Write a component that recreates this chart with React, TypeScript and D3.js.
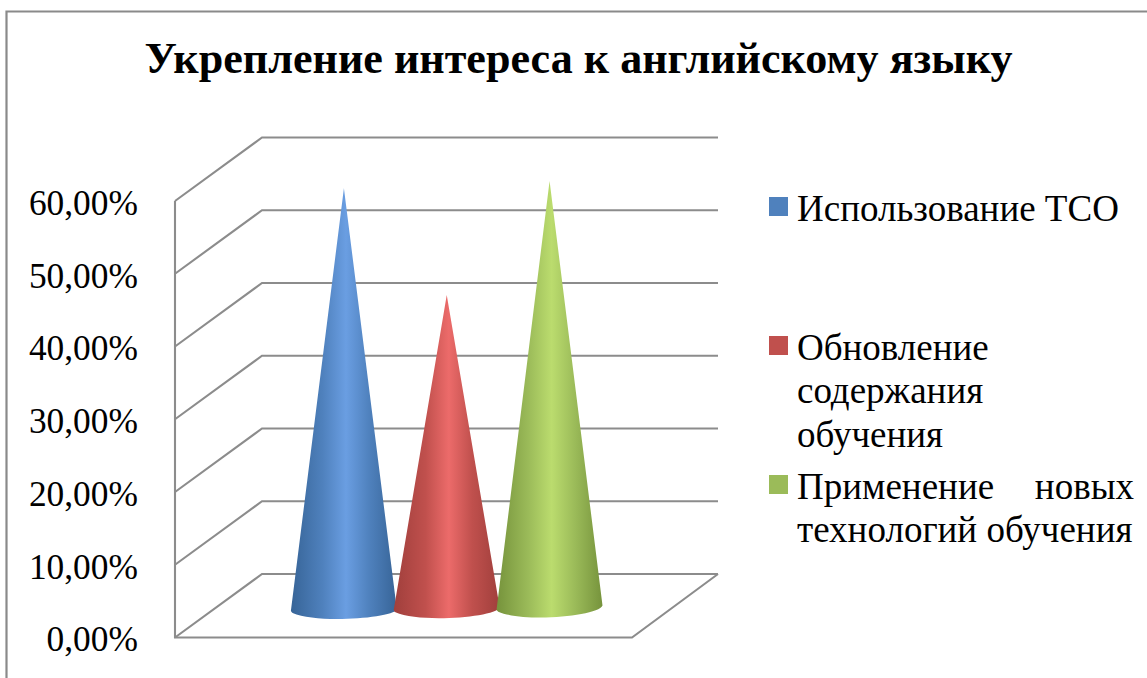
import { useEffect, useRef } from "react";
import * as d3 from "d3";

const title = "Укрепление интереса к английскому языку";
const seriesNames = ["Использование ТСО", "Обновление содержания обучения", "Применение новых технологий обучения"];
const seriesValues = [0.574, 0.427, 0.584];
const tickValues = [0, 0.1, 0.2, 0.3, 0.4, 0.5, 0.6];
const baseColors = ["#4f81bd", "#c0504d", "#9bbb59"];
const edgeColors = ["#376497", "#a03f3c", "#76933c"];
const lightColors = ["#6a9ee2", "#ec6b6a", "#bbdc6e"];
const legendLines = [["Использование ТСО"], ["Обновление", "содержания", "обучения"], ["Применение", "технологий обучения"]];
const legendTops = [197, 336, 475];

const width = 1147;
const height = 678;
const font = "'Liberation Serif', 'Times New Roman', serif";
const gridColor = "#8c8c8c";

export default function App() {
  const svgRef = useRef<SVGSVGElement>(null);

  useEffect(() => {
    if (!svgRef.current) return;
    const svg = d3.select(svgRef.current);
    svg.selectAll("*").remove();
    svg.attr("width", width).attr("height", height);

    const front = { left: 175, right: 632 };
    const depth = { x: 87, y: -63.5 };

    const y = d3.scaleLinear().domain([0, 0.6]).range([637.5, 201]);
    const x = d3.scaleBand<string>().domain(seriesNames).range([292.5, 601]);
    const fmt = d3.formatLocale({ decimal: ",", thousands: " ", grouping: [3], currency: ["", ""] }).format(".2%");

    // Chart frame, runs off the right and bottom of the crop
    svg.append("path")
      .attr("d", `M${width + 2},11.5H6.5V${height + 2}`)
      .attr("fill", "none")
      .attr("stroke", "#8a8a8a")
      .attr("stroke-width", 2.2);

    svg.append("text")
      .attr("x", 578.5)
      .attr("y", 73)
      .attr("text-anchor", "middle")
      .attr("font-family", font)
      .attr("font-weight", "bold")
      .attr("font-size", 44.1)
      .attr("fill", "#000")
      .text(title);

    // Grid on the side and back walls
    const grid = svg.append("g").attr("fill", "none").attr("stroke", gridColor).attr("stroke-width", 2.1);
    grid.selectAll("path")
      .data(tickValues)
      .join("path")
      .attr("d", (d) => {
        const p = d3.path();
        p.moveTo(front.left, y(d));
        p.lineTo(front.left + depth.x, y(d) + depth.y);
        p.lineTo(front.right + depth.x - 1, y(d) + depth.y);
        return p.toString();
      });
    grid.append("path")
      .attr("d", `M${front.left},${y(0.6)}V${y(0)}H${front.right}L${front.right + depth.x - 1},${y(0) + depth.y}`);

    // Y axis labels
    const axis = svg.append("g")
      .attr("transform", "translate(138,0)")
      .call(d3.axisLeft(y).tickValues(tickValues).tickSize(0).tickPadding(0).tickFormat((d) => fmt(d as number)));
    axis.select(".domain").remove();
    axis.selectAll("text")
      .attr("font-family", font)
      .attr("font-size", 35.4)
      .attr("fill", "#000")
      .attr("dy", "0.38em");

    // Cone gradients
    const defs = svg.append("defs");
    seriesNames.forEach((_, i) => {
      const g = defs.append("linearGradient").attr("id", `cone-${i}`).attr("x1", 0).attr("x2", 1).attr("y1", 0).attr("y2", 0);
      g.append("stop").attr("offset", "0%").attr("stop-color", edgeColors[i]);
      g.append("stop").attr("offset", "30%").attr("stop-color", baseColors[i]);
      g.append("stop").attr("offset", "52%").attr("stop-color", lightColors[i]);
      g.append("stop").attr("offset", "74%").attr("stop-color", baseColors[i]);
      g.append("stop").attr("offset", "100%").attr("stop-color", edgeColors[i]);
    });

    // Cones stand halfway into the floor, tilt of the base grows to the right
    const baseY = y(0) + depth.y / 2;
    const valueHeight = (v: number) => y(0) - y(v);
    svg.append("g")
      .selectAll("path")
      .data(seriesNames)
      .join("path")
      .attr("fill", (_, i) => `url(#cone-${i})`)
      .attr("d", (name, i) => {
        const half = x.bandwidth() / 2 + 1.5;
        const cx = x(name)! + x.bandwidth() / 2;
        const tilt = (cx - 300) * 0.0125;
        const ly = baseY + 4.5 + tilt * 0.5 - tilt;
        const ry = baseY + 4.5 - tilt * 0.5 - tilt;
        const tipY = baseY - valueHeight(seriesValues[i]);
        const p = d3.path();
        p.moveTo(cx, tipY);
        p.lineTo(cx + half, ry);
        p.bezierCurveTo(cx + half * 0.92, ry + 8 + tilt, cx - half * 0.5, ly + 14, cx - half * 0.97, ly + 3);
        p.quadraticCurveTo(cx - half * 1.01, ly + 1.5, cx - half, ly);
        p.closePath();
        return p.toString();
      });

    // Legend
    const legend = svg.append("g").attr("font-family", font).attr("font-size", 37).attr("fill", "#000");
    seriesNames.forEach((_, i) => {
      legend.append("rect")
        .attr("x", 769)
        .attr("y", legendTops[i])
        .attr("width", 19)
        .attr("height", 19)
        .attr("fill", baseColors[i]);
      legendLines[i].forEach((line, j) => {
        legend.append("text")
          .attr("x", 797)
          .attr("y", legendTops[i] + 23.5 + j * 43.5)
          .text(line);
      });
    });
    // The third legend entry is justified in the original
    legend.append("text")
      .attr("x", 1134)
      .attr("y", legendTops[2] + 23.5)
      .attr("text-anchor", "end")
      .text("новых");
  }, []);

  return <svg ref={svgRef} style={{ position: "absolute", left: 0, top: 0, background: "#fff" }} />;
}
